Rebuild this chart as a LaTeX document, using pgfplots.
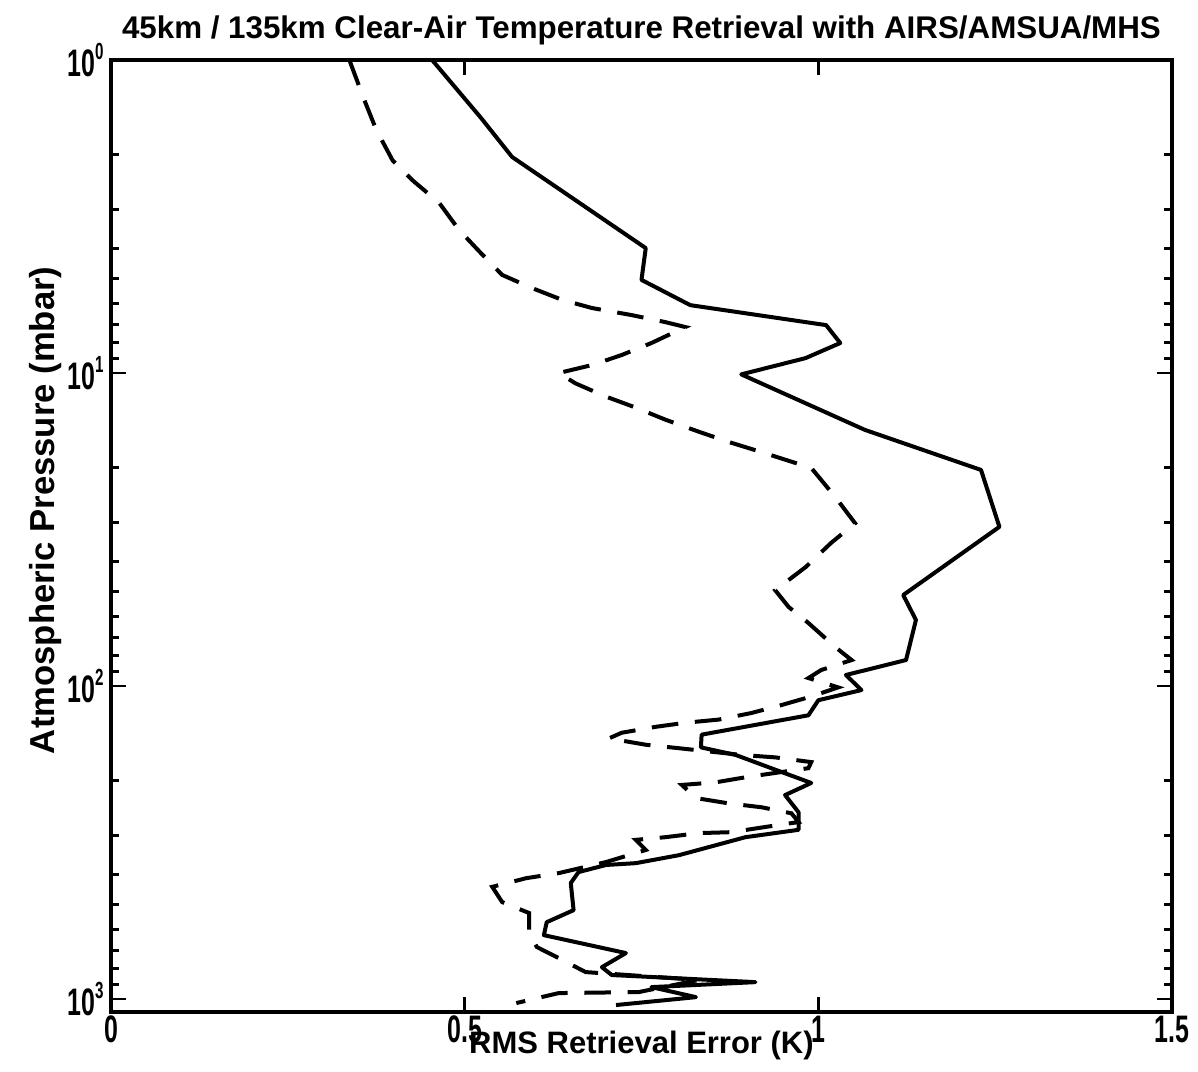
\documentclass[border=0pt]{standalone}
\usepackage{pgfplots}
\pgfplotsset{compat=1.18}
\usepackage{fontspec}
\setmainfont{Liberation Sans}
\newfontfamily\tickfont[FakeStretch=0.65]{Liberation Sans}
\newcommand{\tk}{\tickfont\bfseries\fontsize{11.5}{11.5}\selectfont}
\newcommand{\ylab}[1]{{\tk 10\raisebox{0.45em}{\fontsize{7}{7}\selectfont #1}}}
\begin{document}
\begin{tikzpicture}
\begin{axis}[
  scale only axis, width=318.3pt, height=285.6pt,
  xmin=0, xmax=1.5, ymin=1, ymax=1100,
  ymode=log, y dir=reverse,
  axis line style={line width=1pt},
  every tick/.style={black, line width=0.8pt},
  tick align=inside,
  major tick length=4.5pt, minor tick length=2.5pt,
  xtick={0,0.5,1,1.5}, xticklabels={0,0.5,1,1.5},
  xticklabel style={font=\tk, inner sep=1pt},
  ytick={1,10,100,1000},
  yticklabels={\ylab{0},\ylab{1},\ylab{2},\ylab{3}},
  yticklabel style={inner sep=2pt},
  minor ytick={2,3,4,5,6,7,8,9,20,30,40,50,60,70,80,90,200,300,400,500,600,700,800,900},
  title={45km / 135km Clear-Air Temperature Retrieval with AIRS/AMSUA/MHS},
  title style={font=\bfseries\fontsize{9.4}{10}\selectfont, at={(axis description cs:0.5,1.0315)}, anchor=center, yshift=-6pt},
  xlabel={RMS Retrieval Error (K)},
  xlabel style={font=\bfseries\fontsize{9.3}{10}\selectfont, at={(axis description cs:0.5,-0.035)}, anchor=center},
  ylabel={Atmospheric Pressure (mbar)},
  ylabel style={font=\bfseries\fontsize{10.4}{11}\selectfont, at={(axis description cs:-0.062,0.527)}, anchor=center, rotate=0},
]
\addplot[black, line width=1.2pt, line join=round] coordinates {
(0.454,1.0) (0.523,1.53) (0.567,2.04) (0.756,3.99) (0.750,5.04) (0.819,6.07)
(1.011,7.03) (1.031,8.02) (0.982,8.96) (0.891,10.1) (1.066,15.2) (1.230,20.4)
(1.256,31.0) (1.120,51.2) (1.138,61.5) (1.124,82.6) (1.039,92.2) (1.061,103)
(1.000,111) (0.986,124) (0.835,143) (0.834,157) (0.883,166) (0.939,185)
(0.990,204) (0.953,223) (0.972,253) (0.972,288) (0.897,304) (0.803,347)
(0.742,368) (0.700,373) (0.661,393) (0.650,426) (0.654,520) (0.616,568)
(0.612,625) (0.728,713) (0.694,791) (0.708,838) (0.911,883) (0.764,916)
(0.827,986) (0.714,1045)
};
\addplot[black, line width=1.2pt, dash pattern=on 8pt off 5pt] coordinates {
(0.337,1.0) (0.358,1.34) (0.375,1.67) (0.398,2.09) (0.426,2.42) (0.464,2.86)
(0.492,3.49) (0.523,4.14) (0.553,4.86) (0.595,5.35) (0.638,5.84) (0.680,6.20)
(0.736,6.53) (0.784,6.88) (0.812,7.13) (0.764,8.02) (0.722,8.76) (0.680,9.43)
(0.633,10.0) (0.657,10.8) (0.700,11.9) (0.742,12.9) (0.784,14.1) (0.831,15.4)
(0.873,16.6) (0.920,17.9) (0.962,19.2) (0.990,20.1) (1.024,24.9) (1.052,30.2)
(1.018,34.9) (0.982,41.7) (0.939,49.4) (0.958,55.9) (0.986,62.9) (1.024,75.1)
(1.047,82.6) (1.004,88.9) (0.986,94.3) (1.028,101) (0.990,108) (0.948,115)
(0.905,122) (0.859,128) (0.812,131) (0.770,135) (0.722,141) (0.704,147)
(0.756,154) (0.803,158) (0.891,166) (0.939,169) (0.990,175) (0.986,183)
(0.901,195) (0.855,203) (0.807,207) (0.827,228) (0.873,237) (0.920,244)
(0.962,255) (0.972,272) (0.925,282) (0.877,293) (0.831,295) (0.784,304)
(0.742,310) (0.756,334) (0.700,365) (0.633,396) (0.587,411) (0.539,438)
(0.553,490) (0.591,531) (0.591,611) (0.602,682) (0.633,740) (0.671,820)
(0.831,869) (0.746,950) (0.633,957) (0.573,1030)
};
\end{axis}
\path (current axis.south west) ++(-33.3pt,-18pt) rectangle ++(359.4pt,321.6pt);
\end{tikzpicture}
\end{document}
